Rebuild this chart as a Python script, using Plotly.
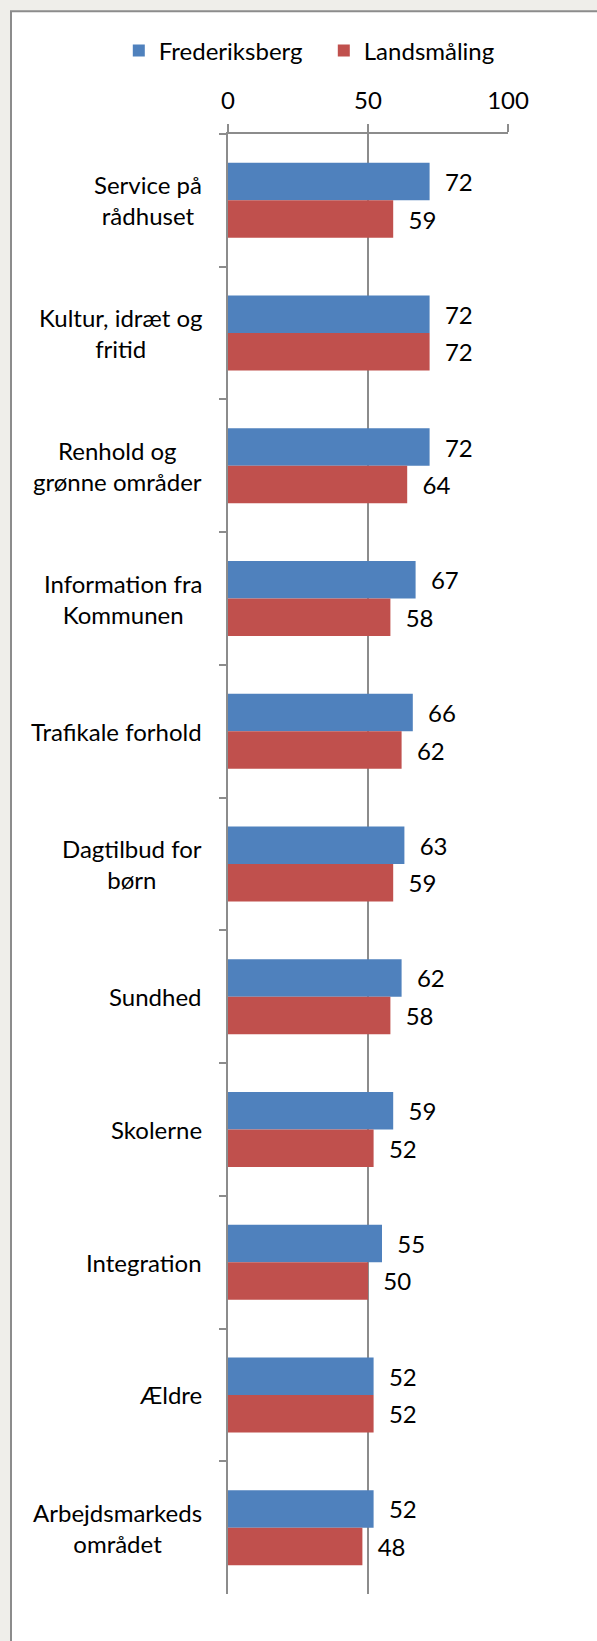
import plotly.graph_objects as go

# kategorier (top -> bund)
categories = [
    "Service på<br>rådhuset",
    "Kultur, idræt og<br>fritid",
    "Renhold og<br>grønne områder",
    "Information fra<br>Kommunen",
    "Trafikale forhold",
    "Dagtilbud for<br>børn",
    "Sundhed",
    "Skolerne",
    "Integration",
    "Ældre",
    "Arbejdsmarkeds<br>området",
]
frederiksberg = [72, 72, 72, 67, 66, 63, 62, 59, 55, 52, 52]
landsmaaling = [59, 72, 64, 58, 62, 59, 58, 52, 50, 52, 48]
x_ticks = [0, 50, 100]

FONT = "Lato, Carlito, Calibri, sans-serif"
GRID = "#8c8c8c"

fig = go.Figure()
fig.add_trace(go.Bar(
    y=categories, x=frederiksberg, name="Frederiksberg", orientation="h",
    marker=dict(color="#4F81BD", line=dict(width=0)),
    texttemplate="\u00a0\u00a0%{x}", textposition="outside",
    constraintext="none", cliponaxis=False,
    textfont=dict(size=24, color="#000000", family=FONT),
))
fig.add_trace(go.Bar(
    y=categories, x=landsmaaling, name="Landsmåling", orientation="h",
    marker=dict(color="#C0504D", line=dict(width=0)),
    texttemplate="\u00a0\u00a0%{x}", textposition="outside",
    constraintext="none", cliponaxis=False,
    textfont=dict(size=24, color="#000000", family=FONT),
))

# kategori-etiketter, centreret linje for linje
for c in categories:
    fig.add_annotation(
        x=-0.086, xref="paper", y=c, yref="y",
        text=c, showarrow=False, xanchor="right", align="center",
        font=dict(size=24, color="#000000", family=FONT),
    )

# hvid ramme med grå kant
fig.add_shape(
    type="rect", xref="paper", yref="paper",
    x0=-0.775, x1=2.0, y0=-1.0, y1=1.084,
    line=dict(color="#8c8c8c", width=2), fillcolor="#ffffff", layer="below",
)

fig.update_layout(
    width=597, height=1641,
    margin=dict(l=228, r=89, t=134, b=47),
    paper_bgcolor="#efeeea", plot_bgcolor="#ffffff",
    barmode="group", bargap=0.435, bargroupgap=0,
    font=dict(family=FONT, size=24, color="#000000"),
    legend=dict(
        orientation="h", x=-0.39, xanchor="left", y=1.057, yanchor="middle",
        font=dict(size=24), bgcolor="rgba(0,0,0,0)", itemwidth=30,
        entrywidth=160, entrywidthmode="pixels",
    ),
    showlegend=True,
)
fig.update_xaxes(
    side="top", range=[0, 100], tickvals=x_ticks,
    showgrid=True, gridcolor=GRID, gridwidth=1.5, zeroline=False,
    showline=True, linecolor=GRID, linewidth=1.5,
    ticks="outside", ticklen=8, tickcolor=GRID, tickwidth=1.5,
    ticklabelstandoff=6, tickfont=dict(size=24),
)
fig.update_yaxes(
    autorange="reversed", showticklabels=False, showgrid=False,
    showline=True, linecolor=GRID, linewidth=1.5,
    ticks="outside", ticklen=7, tickcolor=GRID, tickwidth=1.5,
    tickson="boundaries",
)

fig.write_html(
    "out.html",
    config={"displayModeBar": False},
    post_script="document.body.style.margin='0';",
)
